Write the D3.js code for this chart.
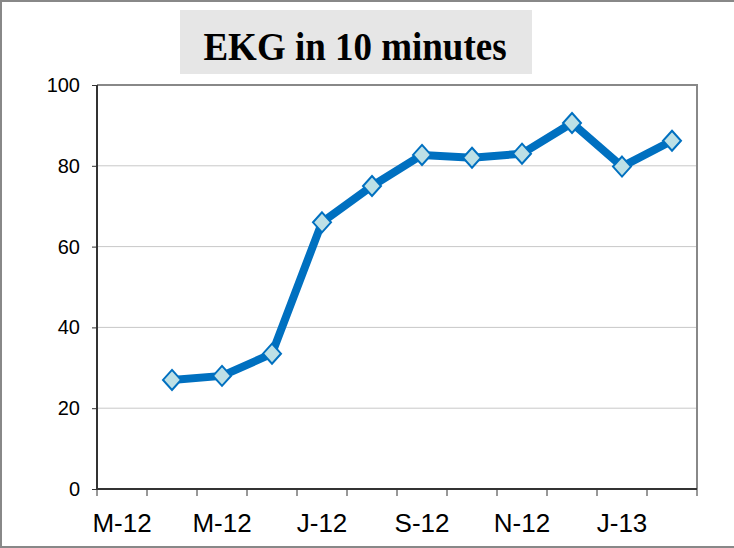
<!DOCTYPE html>
<html lang="en">
<head>
    <meta charset="utf-8">
    <style type="text/css">
        body { margin: 0; background-color: #fff; }
        svg { display: block; }
        .tick text { font-family: "Liberation Sans", Arial, sans-serif; fill: #000; }
    </style>
    <script src="https://d3js.org/d3.v7.min.js"></script>
    <title>EKG in 10 minutes</title>
</head>
<body>
    <div id="canvas"></div>
    <script type="text/JavaScript">

        //Chart data
        var months = ["Mar-12", "Apr-12", "May-12", "Jun-12", "Jul-12", "Aug-12",
                      "Sep-12", "Oct-12", "Nov-12", "Dec-12", "Jan-13", "Feb-13"];
        var monthLabels = ["M-12", "", "M-12", "", "J-12", "", "S-12", "", "N-12", "", "J-13", ""];
        var values = [null, 27, 28, 33.5, 66, 75, 82.7, 82, 83, 90.6, 79.8, 86.2];
        var yTicks = [0, 20, 40, 60, 80, 100];

        var width = 734, height = 548;
        var margin = { top: 85, right: 37, bottom: 59, left: 97 };
        var innerW = width - margin.left - margin.right,
            innerH = height - margin.top - margin.bottom;

        var svg = d3.select("#canvas")
            .append("svg")
            .attr("width", width)
            .attr("height", height);

        //outer frame (top, left, bottom)
        svg.append("path")
            .attr("d", "M1,547V1H734M0,547H734")
            .attr("fill", "none")
            .attr("stroke", "#888")
            .attr("stroke-width", 2);

        //title box, text is a bit stretched vertically like the original
        svg.append("rect")
            .attr("x", 180).attr("y", 10)
            .attr("width", 352).attr("height", 64)
            .attr("fill", "#e6e6e6");
        svg.append("text")
            .attr("transform", "translate(355,60) scale(1,1.1)")
            .attr("text-anchor", "middle")
            .style("font", "bold 37px 'Liberation Serif', 'Times New Roman', serif")
            .text("EKG in 10 minutes");

        var g = svg.append("g")
            .attr("transform", "translate(" + margin.left + "," + margin.top + ")");

        var x = d3.scaleBand().domain(months).range([0, innerW]);
        var y = d3.scaleLinear().domain([0, 100]).range([innerH, 0]);

        //gridlines
        g.selectAll(".grid")
            .data(yTicks.slice(1, -1))
            .enter().append("line")
            .attr("x1", 0).attr("x2", innerW)
            .attr("y1", function(d) { return y(d); })
            .attr("y2", function(d) { return y(d); })
            .attr("stroke", "#c8c8c8")
            .attr("stroke-width", 1);

        //plot border top + right
        g.append("path")
            .attr("d", "M0," + y(100) + "H" + innerW + "V" + innerH)
            .attr("fill", "none")
            .attr("stroke", "#888")
            .attr("stroke-width", 2);

        //y axis
        var yAxis = g.append("g")
            .call(d3.axisLeft(y).tickValues(yTicks).tickSize(5).tickPadding(12));
        yAxis.select(".domain").attr("stroke", "#333").attr("stroke-width", 2)
            .attr("d", "M0," + innerH + "V0");
        yAxis.selectAll(".tick line").attr("stroke", "#333");
        yAxis.selectAll(".tick text").style("font-size", "20px");

        //x axis, ticks on category boundaries
        var xAxis = g.append("g")
            .attr("transform", "translate(0," + innerH + ")")
            .call(d3.axisBottom(x).tickSize(0)
                .tickFormat(function(d, i) { return monthLabels[i]; }));
        xAxis.select(".domain").attr("stroke", "#333").attr("stroke-width", 2)
            .attr("d", "M0,0H" + innerW);
        xAxis.selectAll(".tick text")
            .attr("y", 43).attr("dy", 0)
            .style("font-size", "26px");
        xAxis.selectAll(".bound")
            .data(d3.range(months.length + 1))
            .enter().append("line")
            .attr("class", "bound")
            .attr("x1", function(d) { return d * x.step(); })
            .attr("x2", function(d) { return d * x.step(); })
            .attr("y1", 0).attr("y2", 7)
            .attr("stroke", "#333");

        var pts = months.map(function(m, i) { return { m: m, v: values[i] }; })
            .filter(function(d) { return d.v !== null; });

        var line = d3.line()
            .x(function(d) { return x(d.m) + x.bandwidth() / 2; })
            .y(function(d) { return y(d.v); });

        g.append("path")
            .datum(pts)
            .attr("d", line)
            .attr("fill", "none")
            .attr("stroke", "#0070c0")
            .attr("stroke-width", 8)
            .attr("stroke-linejoin", "round");

        g.selectAll(".marker")
            .data(pts)
            .enter().append("path")
            .attr("class", "marker")
            .attr("d", "M0,-10L9,0L0,10L-9,0Z")
            .attr("transform", function(d) {
                return "translate(" + (x(d.m) + x.bandwidth() / 2) + "," + y(d.v) + ")";
            })
            .attr("fill", "#bde0e6")
            .attr("stroke", "#0070c0")
            .attr("stroke-width", 2);

    </script>
</body>
</html>
